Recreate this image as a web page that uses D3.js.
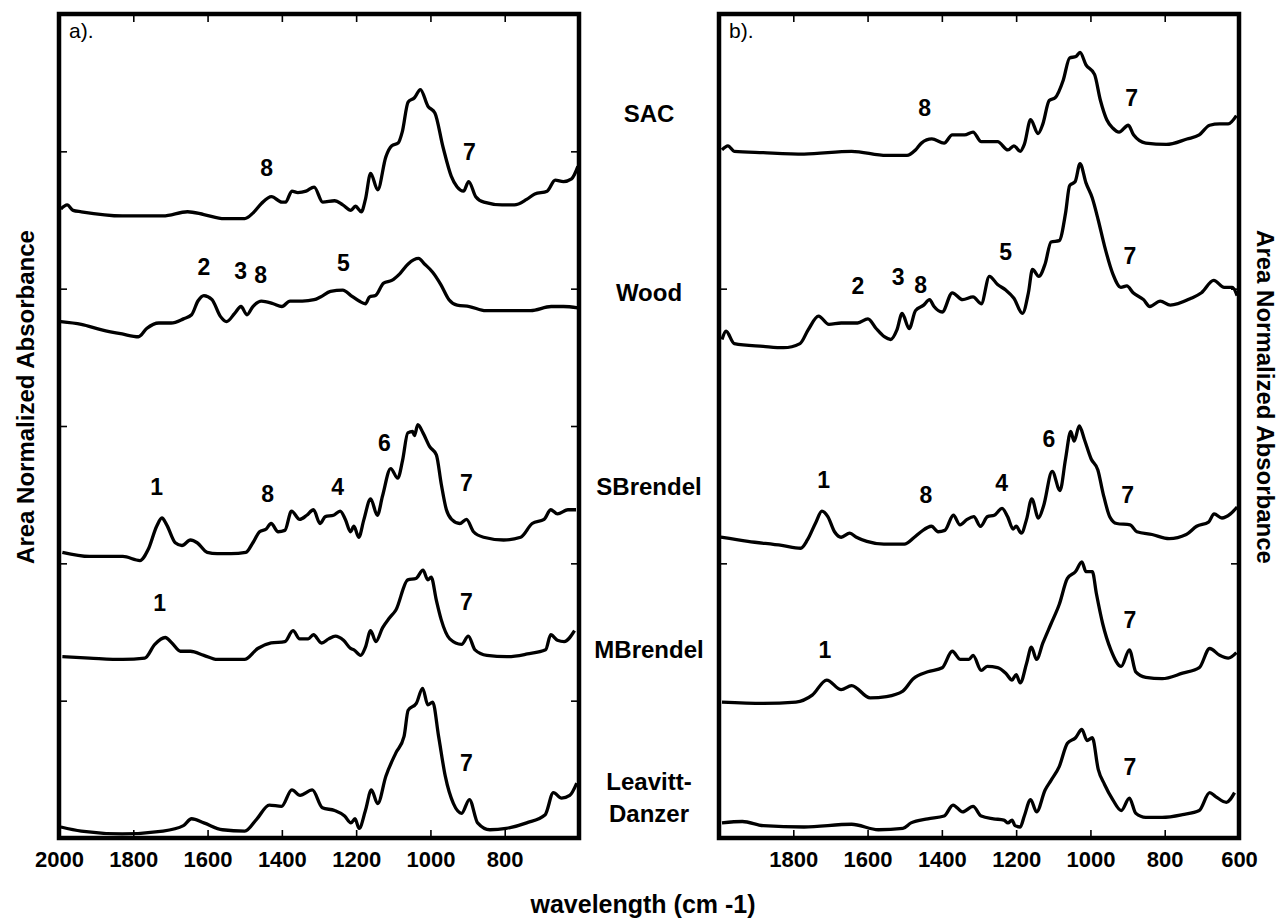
<!DOCTYPE html>
<html>
<head>
<meta charset="utf-8">
<script src="https://cdn.jsdelivr.net/npm/d3@7"></script>
<style>
  body { margin: 0; background: #fff; }
  text { font-family: "Liberation Sans", Arial, Helvetica, sans-serif; }
</style>
</head>
<body>
<script>
// sample names, top to bottom
const samples = ["SAC", "Wood", "SBrendel", "MBrendel", "Leavitt-Danzer"];

// panel a spectra: [wavenumber, area normalized absorbance (stacked)]
const sacA = [[1995,4.58],[1978,4.61],[1962,4.57],[1940,4.56],[1830,4.53],[1720,4.53],[1654,4.56],[1610,4.54],[1555,4.51],[1500,4.51],[1478,4.55],[1455,4.62],[1428,4.67],[1400,4.63],[1390,4.63],[1373,4.71],[1357,4.70],[1335,4.71],[1313,4.74],[1290,4.63],[1258,4.64],[1236,4.61],[1214,4.57],[1202,4.60],[1186,4.56],[1175,4.65],[1161,4.84],[1142,4.72],[1120,4.96],[1104,5.04],[1087,5.06],[1076,5.14],[1060,5.36],[1043,5.39],[1027,5.45],[1007,5.33],[988,5.28],[966,5.03],[944,4.82],[928,4.74],[911,4.71],[897,4.78],[878,4.67],[856,4.63],[807,4.61],[774,4.61],[741,4.65],[719,4.69],[686,4.71],[664,4.79],[642,4.78],[620,4.80],[603,4.89]];
const woodA = [[1995,3.76],[1940,3.74],[1885,3.70],[1830,3.67],[1786,3.65],[1764,3.71],[1731,3.75],[1698,3.75],[1665,3.78],[1643,3.81],[1626,3.91],[1610,3.95],[1588,3.92],[1566,3.80],[1549,3.76],[1527,3.82],[1510,3.87],[1494,3.81],[1478,3.87],[1455,3.91],[1423,3.89],[1400,3.87],[1378,3.91],[1345,3.91],[1313,3.92],[1296,3.94],[1269,3.98],[1236,3.99],[1214,3.95],[1192,3.91],[1175,3.89],[1164,3.94],[1148,3.95],[1126,4.04],[1104,4.06],[1082,4.11],[1060,4.18],[1032,4.22],[1016,4.18],[994,4.12],[972,4.03],[950,3.92],[928,3.88],[895,3.87],[851,3.84],[785,3.84],[730,3.84],[675,3.87],[642,3.87],[603,3.86]];
const sbrendelA = [[1991,2.08],[1918,2.05],[1828,2.05],[1782,2.02],[1760,2.10],[1737,2.27],[1723,2.33],[1710,2.28],[1687,2.15],[1669,2.13],[1646,2.17],[1628,2.15],[1601,2.08],[1574,2.07],[1537,2.07],[1497,2.08],[1478,2.15],[1460,2.23],[1442,2.25],[1429,2.29],[1410,2.23],[1392,2.24],[1374,2.38],[1352,2.32],[1333,2.35],[1315,2.39],[1297,2.29],[1283,2.34],[1261,2.35],[1243,2.38],[1229,2.32],[1215,2.23],[1206,2.27],[1193,2.19],[1179,2.32],[1161,2.47],[1143,2.35],[1129,2.49],[1107,2.69],[1088,2.62],[1075,2.75],[1061,2.95],[1048,2.96],[1043,2.93],[1034,3.01],[1020,2.95],[1002,2.85],[984,2.79],[971,2.58],[957,2.39],[943,2.32],[921,2.29],[903,2.32],[884,2.23],[857,2.19],[803,2.17],[757,2.19],[726,2.29],[694,2.32],[676,2.39],[658,2.36],[630,2.39],[608,2.39]];
const mbrendelA = [[1991,1.32],[1918,1.31],[1828,1.30],[1769,1.31],[1742,1.41],[1714,1.46],[1696,1.42],[1673,1.36],[1646,1.36],[1610,1.33],[1574,1.30],[1537,1.30],[1501,1.30],[1465,1.38],[1429,1.42],[1392,1.43],[1370,1.51],[1352,1.45],[1329,1.45],[1315,1.48],[1293,1.42],[1274,1.45],[1256,1.47],[1234,1.44],[1215,1.38],[1206,1.37],[1188,1.33],[1175,1.39],[1161,1.51],[1147,1.43],[1129,1.53],[1111,1.60],[1093,1.66],[1061,1.88],[1039,1.89],[1020,1.95],[1007,1.88],[998,1.90],[984,1.73],[971,1.59],[948,1.45],[916,1.41],[898,1.47],[880,1.37],[848,1.33],[794,1.32],[739,1.34],[690,1.37],[676,1.48],[658,1.44],[640,1.43],[612,1.51]];
const leavittA = [[1995,0.08],[1940,0.05],[1830,0.03],[1720,0.05],[1665,0.09],[1643,0.14],[1610,0.11],[1560,0.06],[1500,0.05],[1467,0.14],[1434,0.24],[1401,0.23],[1373,0.35],[1351,0.31],[1318,0.35],[1291,0.22],[1258,0.20],[1231,0.16],[1214,0.11],[1203,0.14],[1192,0.07],[1175,0.20],[1159,0.35],[1142,0.25],[1120,0.45],[1093,0.62],[1071,0.74],[1060,0.93],[1038,0.98],[1021,1.09],[1007,0.97],[994,0.99],[978,0.74],[960,0.45],[938,0.25],[916,0.18],[895,0.28],[873,0.11],[840,0.06],[796,0.07],[741,0.11],[691,0.17],[669,0.33],[647,0.29],[625,0.31],[606,0.40]];

// panel b spectra
const sacB = [[1992,5.01],[1976,5.04],[1959,5.00],[1881,4.99],[1771,4.98],[1643,5.00],[1549,4.97],[1494,4.97],[1471,5.01],[1455,5.06],[1427,5.09],[1394,5.06],[1372,5.12],[1339,5.12],[1316,5.14],[1294,5.07],[1250,5.07],[1222,5.01],[1206,5.04],[1189,5.00],[1178,5.05],[1161,5.23],[1141,5.13],[1128,5.20],[1111,5.37],[1095,5.39],[1073,5.52],[1056,5.68],[1039,5.69],[1028,5.72],[1012,5.63],[989,5.56],[973,5.37],[956,5.23],[940,5.17],[923,5.14],[898,5.19],[884,5.12],[851,5.06],[796,5.05],[740,5.09],[707,5.12],[679,5.19],[652,5.20],[629,5.20],[607,5.26]];
const woodB = [[1992,3.63],[1981,3.69],[1959,3.60],[1881,3.58],[1826,3.57],[1782,3.60],[1760,3.70],[1732,3.80],[1704,3.74],[1671,3.75],[1627,3.75],[1599,3.78],[1577,3.71],[1555,3.65],[1538,3.63],[1521,3.70],[1507,3.82],[1488,3.71],[1471,3.84],[1449,3.88],[1433,3.92],[1421,3.87],[1399,3.83],[1372,3.97],[1344,3.92],[1316,3.94],[1294,3.89],[1272,4.09],[1250,4.03],[1228,3.99],[1206,3.93],[1183,3.82],[1167,3.97],[1156,4.14],[1139,4.09],[1122,4.18],[1106,4.34],[1084,4.35],[1067,4.55],[1056,4.75],[1041,4.78],[1028,4.91],[1012,4.77],[995,4.66],[979,4.50],[962,4.31],[940,4.11],[918,4.01],[902,4.02],[885,3.97],[857,3.92],[840,3.87],[812,3.91],[785,3.88],[729,3.93],[701,3.97],[668,4.06],[640,4.01],[618,4.01],[605,3.95]];
const sbrendelB = [[1995,2.19],[1922,2.16],[1831,2.13],[1780,2.11],[1762,2.17],[1739,2.30],[1723,2.38],[1707,2.34],[1689,2.23],[1671,2.19],[1648,2.22],[1630,2.19],[1602,2.16],[1556,2.14],[1501,2.14],[1474,2.19],[1456,2.23],[1428,2.27],[1410,2.23],[1392,2.24],[1369,2.35],[1351,2.28],[1332,2.32],[1314,2.34],[1296,2.27],[1277,2.34],[1259,2.35],[1238,2.40],[1223,2.34],[1208,2.25],[1200,2.27],[1186,2.22],[1172,2.32],[1158,2.47],[1140,2.33],[1126,2.42],[1103,2.67],[1082,2.53],[1067,2.76],[1053,2.96],[1044,2.89],[1030,3.00],[1016,2.90],[998,2.76],[980,2.68],[966,2.51],[948,2.34],[929,2.29],[893,2.28],[875,2.23],[834,2.21],[788,2.18],[742,2.21],[714,2.27],[682,2.30],[667,2.36],[646,2.33],[623,2.36],[605,2.41]];
const mbrendelB = [[1992,0.99],[1881,0.98],[1793,0.99],[1749,1.04],[1710,1.15],[1671,1.08],[1643,1.11],[1593,1.02],[1549,1.03],[1505,1.07],[1477,1.16],[1438,1.21],[1399,1.24],[1372,1.36],[1350,1.30],[1327,1.30],[1316,1.33],[1294,1.22],[1278,1.25],[1250,1.24],[1228,1.20],[1211,1.15],[1200,1.19],[1189,1.13],[1172,1.27],[1159,1.39],[1145,1.30],[1128,1.42],[1106,1.56],[1084,1.70],[1062,1.89],[1040,1.94],[1023,2.01],[1012,1.94],[995,1.94],[984,1.78],[967,1.56],[945,1.37],[917,1.25],[895,1.37],[878,1.21],[851,1.17],[807,1.16],[752,1.20],[707,1.24],[679,1.38],[652,1.33],[629,1.31],[607,1.35]];
const leavittB = [[1992,0.11],[1937,0.12],[1881,0.09],[1771,0.08],[1643,0.10],[1571,0.06],[1505,0.07],[1483,0.11],[1438,0.14],[1394,0.16],[1370,0.24],[1344,0.19],[1316,0.23],[1294,0.16],[1261,0.14],[1233,0.13],[1222,0.11],[1211,0.13],[1203,0.09],[1189,0.08],[1178,0.16],[1161,0.28],[1145,0.19],[1122,0.35],[1106,0.42],[1084,0.52],[1062,0.69],[1040,0.73],[1023,0.79],[1009,0.71],[995,0.73],[979,0.50],[962,0.39],[940,0.28],[917,0.20],[895,0.29],[878,0.18],[851,0.15],[807,0.15],[752,0.17],[707,0.20],[679,0.33],[662,0.30],[634,0.26],[612,0.33]];

// band numbers: label, wavenumber, absorbance
const bandsA = [
  ["8",1441,4.88],["7",895,5.00],
  ["2",1610,4.16],["3",1511,4.13],["8",1457,4.10],["5",1234,4.19],
  ["1",1737,2.56],["8",1438,2.51],["4",1250,2.56],["6",1124,2.88],["7",903,2.59],
  ["1",1729,1.71],["7",903,1.72],
  ["7",903,0.55]
];
const bandsB = [
  ["8",1446,5.32],["7",889,5.39],
  ["2",1626,4.02],["3",1518,4.09],["8",1457,4.03],["5",1228,4.27],["7",894,4.24],
  ["1",1718,2.61],["8",1443,2.50],["4",1239,2.59],["6",1112,2.91],["7",900,2.50],
  ["1",1715,1.37],["7",894,1.59],
  ["7",894,0.52]
];

// tick values
const xLabelsA = [2000, 1800, 1600, 1400, 1200, 1000, 800];
const xLabelsB = [1800, 1600, 1400, 1200, 1000, 800, 600];
const xMinor = [1800, 1600, 1400, 1200, 1000, 800];
const yTicksA = [1, 2, 3, 4, 5];
const yTicksB = [2, 4];

const W = 1286, H = 920;
const frameTop = 14, frameBottom = 838;

const svg = d3.select("body").append("svg")
    .attr("width", W)
    .attr("height", H);

const y = d3.scaleLinear().domain([0, 6]).range([frameBottom, frameTop]);

const panels = [
  { name: "a).", left: 59, right: 579, series: [sacA, woodA, sbrendelA, mbrendelA, leavittA],
    bands: bandsA, xLabels: xLabelsA, yTicks: yTicksA },
  { name: "b).", left: 719, right: 1239, series: [sacB, woodB, sbrendelB, mbrendelB, leavittB],
    bands: bandsB, xLabels: xLabelsB, yTicks: yTicksB }
];

panels.forEach(function(p) {
  const x = d3.scaleLinear().domain([2000, 600]).range([p.left, p.right]);
  const g = svg.append("g");

  // clip so lines stay inside the frame
  const clipId = "clip" + p.left;
  svg.append("clipPath").attr("id", clipId)
    .append("rect")
      .attr("x", p.left).attr("y", frameTop)
      .attr("width", p.right - p.left).attr("height", frameBottom - frameTop);

  const line = d3.line()
      .x(function(d) { return x(d[0]); })
      .y(function(d) { return y(d[1]); })
      .curve(d3.curveMonotoneX);

  g.append("g").attr("clip-path", "url(#" + clipId + ")")
    .selectAll("path")
    .data(p.series)
    .join("path")
      .attr("d", line)
      .attr("fill", "none")
      .attr("stroke", "#000")
      .attr("stroke-width", 3.3)
      .attr("stroke-linejoin", "round");

  // bottom axis with labels, inward ticks
  const xb = g.append("g")
      .attr("transform", "translate(0," + frameBottom + ")")
      .call(d3.axisBottom(x).tickValues(p.xLabels).tickSize(-8).tickPadding(13).tickFormat(d3.format("d")));
  // top ticks
  const xt = g.append("g")
      .attr("transform", "translate(0," + frameTop + ")")
      .call(d3.axisTop(x).tickValues(xMinor).tickSize(-8).tickFormat(""));
  // y ticks both sides
  const yl = g.append("g")
      .attr("transform", "translate(" + p.left + ",0)")
      .call(d3.axisLeft(y).tickValues(p.yTicks).tickSize(-8).tickFormat(""));
  const yr = g.append("g")
      .attr("transform", "translate(" + p.right + ",0)")
      .call(d3.axisRight(y).tickValues(p.yTicks).tickSize(-8).tickFormat(""));

  [xb, xt, yl, yr].forEach(function(a) {
    a.select(".domain").remove();
    a.selectAll(".tick line").attr("stroke", "#000").attr("stroke-width", 1.6);
  });
  xb.selectAll(".tick text")
      .attr("fill", "#000")
      .style("font-size", "22px")
      .style("font-weight", "bold")
      .style("font-family", '"Liberation Sans", Arial, sans-serif');

  // frame
  g.append("rect")
      .attr("x", p.left).attr("y", frameTop)
      .attr("width", p.right - p.left).attr("height", frameBottom - frameTop)
      .attr("fill", "none")
      .attr("stroke", "#000")
      .attr("stroke-width", 4.5);

  // panel tag
  g.append("text")
      .attr("x", p.left + 10)
      .attr("y", frameTop + 24)
      .style("font-size", "21px")
      .text(p.name);

  // band numbers
  g.selectAll("text.band")
    .data(p.bands)
    .join("text")
      .attr("class", "band")
      .attr("x", function(d) { return x(d[1]); })
      .attr("y", function(d) { return y(d[2]); })
      .attr("dy", "0.36em")
      .attr("text-anchor", "middle")
      .style("font-size", "23px")
      .style("font-weight", "bold")
      .text(function(d) { return d[0]; });
});

// sample names between panels
const nameLevels = [5.28, 3.97, 2.56, 1.37, 0.41];
const mid = (579 + 719) / 2;
samples.forEach(function(s, i) {
  const t = svg.append("text")
      .attr("x", mid)
      .attr("y", y(nameLevels[i]))
      .attr("text-anchor", "middle")
      .style("font-size", "24px")
      .style("font-weight", "bold");
  if (s.indexOf("-") > 0) {
    const parts = s.split("-");
    t.append("tspan").attr("x", mid).attr("dy", "0.36em").text(parts[0] + "-");
    t.append("tspan").attr("x", mid).attr("dy", "1.3em").text(parts[1]);
  } else {
    t.attr("dy", "0.36em").text(s);
  }
});

// axis titles
svg.append("text")
    .attr("x", W / 2)
    .attr("y", 913)
    .attr("text-anchor", "middle")
    .style("font-size", "25px")
    .style("font-weight", "bold")
    .text("wavelength (cm -1)");

svg.append("text")
    .attr("transform", "translate(25," + 397 + ") rotate(-90)")
    .attr("dy", "0.36em")
    .attr("text-anchor", "middle")
    .style("font-size", "24px")
    .style("font-weight", "bold")
    .text("Area Normalized Absorbance");

svg.append("text")
    .attr("transform", "translate(1266," + 397 + ") rotate(90)")
    .attr("dy", "0.36em")
    .attr("text-anchor", "middle")
    .style("font-size", "24px")
    .style("font-weight", "bold")
    .text("Area Normalized Absorbance");
</script>
</body>
</html>
